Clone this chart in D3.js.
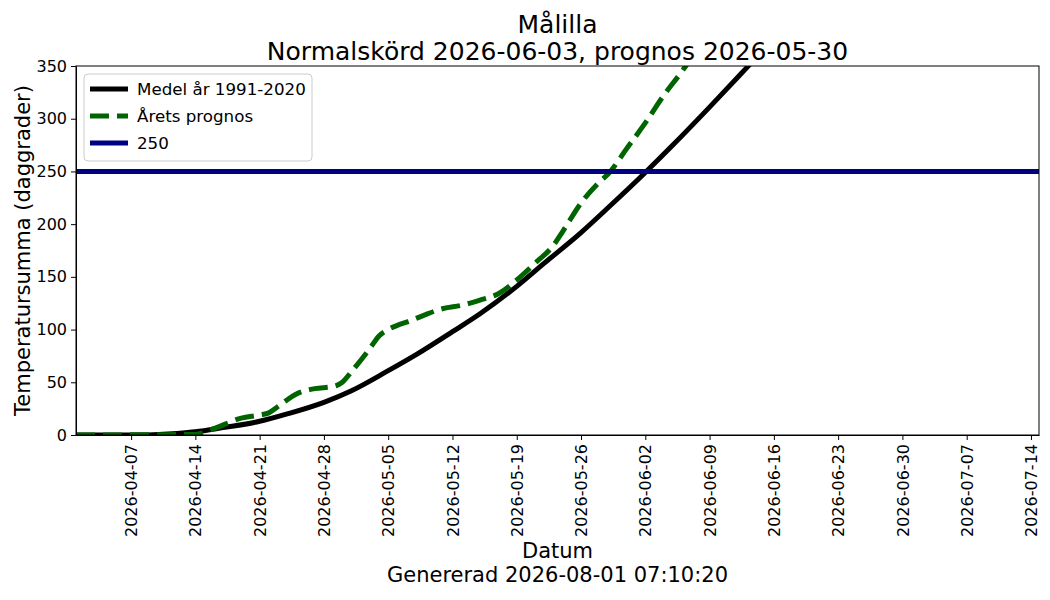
<!DOCTYPE html>
<html>
<head>
<meta charset="utf-8">
<script src="https://cdn.jsdelivr.net/npm/d3@7"></script>
<style>
  body { margin: 0; background: #fff; }
  svg text { font-family: "DejaVu Sans", sans-serif; fill: #000; }
</style>
</head>
<body>
<div id="chart"></div>
<script>
// mean temperature sum 1991-2020 (date, degree days)
var meanDates = ['2026-04-01','2026-04-08','2026-04-10','2026-04-12','2026-04-14','2026-04-17','2026-04-21','2026-04-24',
  '2026-04-28','2026-05-01','2026-05-05','2026-05-08','2026-05-12','2026-05-15','2026-05-19','2026-05-22','2026-05-26',
  '2026-05-29','2026-06-02','2026-06-05','2026-06-09','2026-06-13','2026-06-16'];
var meanValues = [0, 0, 0.5, 1.5, 3, 7, 13, 20, 31, 42, 61, 76, 98, 115, 141, 163, 192, 216, 249, 275, 311, 348, 376];

// this year's forecast
var progDates = ['2026-04-01','2026-04-14','2026-04-16','2026-04-19','2026-04-21','2026-04-22','2026-04-23','2026-04-25',
  '2026-04-27','2026-04-29','2026-04-30','2026-05-01','2026-05-03','2026-05-04','2026-05-05','2026-05-06','2026-05-07',
  '2026-05-09','2026-05-11','2026-05-13','2026-05-15','2026-05-17','2026-05-19','2026-05-21','2026-05-23','2026-05-24',
  '2026-05-26','2026-05-28','2026-05-29','2026-05-31','2026-06-02','2026-06-04','2026-06-06','2026-06-08'];
var progValues = [0, 0.5, 6, 16, 19, 21, 27, 39, 44, 46, 50, 60, 82, 94, 100, 104, 107, 114, 120, 123, 128, 134, 147,
  163, 180, 193, 220, 240, 248, 272, 296, 322, 345, 370];

var threshold = 250;
var xStart = '2026-04-01T00:00', xEnd = '2026-07-14T21:00';
var yTicks = [0, 50, 100, 150, 200, 250, 300, 350];
var xTickLabels = ['2026-04-07','2026-04-14','2026-04-21','2026-04-28','2026-05-05','2026-05-12','2026-05-19',
  '2026-05-26','2026-06-02','2026-06-09','2026-06-16','2026-06-23','2026-06-30','2026-07-07','2026-07-14'];
var legendLabels = ['Medel år 1991-2020', 'Årets prognos', '250'];

var titleLines = ['Målilla', 'Normalskörd 2026-06-03, prognos 2026-05-30'];
var xLabel = 'Datum', xSubLabel = 'Genererad 2026-08-01 07:10:20';
var yLabel = 'Temperatursumma (daggrader)';

var W = 1050, H = 600;
var margin = { top: 66, right: 11, bottom: 165, left: 76 };
var width = W - margin.left - margin.right,
    height = H - margin.top - margin.bottom;

var parseDay = d3.utcParse('%Y-%m-%d'),
    parseTime = d3.utcParse('%Y-%m-%dT%H:%M');

var svg = d3.select('#chart').append('svg')
  .attr('width', W)
  .attr('height', H);

svg.append('defs').append('clipPath').attr('id', 'plotclip')
  .append('rect').attr('width', width).attr('height', height);

var g = svg.append('g')
  .attr('transform', 'translate(' + margin.left + ',' + margin.top + ')');

var x = d3.scaleUtc().domain([parseTime(xStart), parseTime(xEnd)]).range([0, width]);
var y = d3.scaleLinear().domain([0, 350]).range([height, 0]);

function toPoints(dates, values) {
  return dates.map(function(d, i) { return { date: parseDay(d), value: values[i] }; });
}
var meanData = toPoints(meanDates, meanValues),
    progData = toPoints(progDates, progValues);

var line = d3.line()
  .curve(d3.curveMonotoneX)
  .x(function(d) { return x(d.date); })
  .y(function(d) { return y(d.value); });

var plot = g.append('g').attr('clip-path', 'url(#plotclip)');

plot.append('path')
  .datum(meanData)
  .attr('fill', 'none')
  .attr('stroke', '#000')
  .attr('stroke-width', 5)
  .attr('d', line);

plot.append('path')
  .datum(progData)
  .attr('fill', 'none')
  .attr('stroke', '#006400')
  .attr('stroke-width', 5)
  .attr('stroke-dasharray', '19,8')
  .attr('d', line);

plot.append('line')
  .attr('x1', 0).attr('x2', width)
  .attr('y1', y(threshold)).attr('y2', y(threshold))
  .attr('stroke', '#000080')
  .attr('stroke-width', 5);

// axes
var xAxis = g.append('g')
  .attr('transform', 'translate(0,' + height + ')')
  .call(d3.axisBottom(x)
    .tickValues(xTickLabels.map(parseDay))
    .tickFormat(d3.utcFormat('%Y-%m-%d'))
    .tickSizeInner(5).tickSizeOuter(0).tickPadding(4));
xAxis.selectAll('text')
  .attr('transform', 'rotate(-90)')
  .attr('text-anchor', 'end')
  .attr('x', -9).attr('y', 0).attr('dy', '0.35em')
  .style('font-size', '16px');

var yAxis = g.append('g')
  .call(d3.axisLeft(y).tickValues(yTicks).tickSizeInner(5).tickSizeOuter(0).tickPadding(4));
yAxis.selectAll('text').style('font-size', '16px');

g.selectAll('.domain').attr('stroke', '#000');
g.selectAll('.tick line').attr('stroke', '#000');

// frame
g.append('rect')
  .attr('width', width).attr('height', height)
  .attr('fill', 'none').attr('stroke', '#000').attr('stroke-width', 1);

// titles
svg.append('text').attr('x', margin.left + width / 2).attr('y', 33)
  .attr('text-anchor', 'middle').style('font-size', '25px').text(titleLines[0]);
svg.append('text').attr('x', margin.left + width / 2).attr('y', 60)
  .attr('text-anchor', 'middle').style('font-size', '25px').text(titleLines[1]);

svg.append('text').attr('x', margin.left + width / 2).attr('y', 558)
  .attr('text-anchor', 'middle').style('font-size', '21px').text(xLabel);
svg.append('text').attr('x', margin.left + width / 2).attr('y', 582)
  .attr('text-anchor', 'middle').style('font-size', '21px').text(xSubLabel);

svg.append('text')
  .attr('transform', 'translate(30,' + (margin.top + height / 2) + ') rotate(-90)')
  .attr('text-anchor', 'middle').style('font-size', '21px').text(yLabel);

// legend
var legend = g.append('g').attr('transform', 'translate(8,8)');
legend.append('rect')
  .attr('width', 228).attr('height', 87)
  .attr('rx', 4)
  .attr('fill', 'rgba(255,255,255,0.8)')
  .attr('stroke', '#ccc');
var legStyles = [
  { color: '#000', dash: null },
  { color: '#006400', dash: '19,8' },
  { color: '#000080', dash: null }
];
legendLabels.forEach(function(lbl, i) {
  var ly = 15 + i * 27;
  legend.append('line')
    .attr('x1', 6).attr('x2', 44).attr('y1', ly).attr('y2', ly)
    .attr('stroke', legStyles[i].color).attr('stroke-width', 5)
    .attr('stroke-dasharray', legStyles[i].dash);
  legend.append('text')
    .attr('x', 53).attr('y', ly).attr('dy', '0.35em')
    .style('font-size', '16.7px').text(lbl);
});
</script>
</body>
</html>
